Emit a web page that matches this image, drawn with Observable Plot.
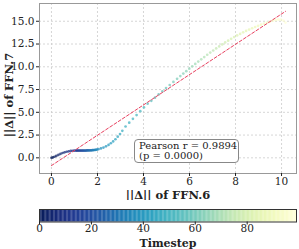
<!DOCTYPE html>
<html><head><meta charset="utf-8">
<script src="https://cdn.jsdelivr.net/npm/d3@7"></script>
<script src="https://cdn.jsdelivr.net/npm/@observablehq/plot@0.6"></script>
<style>
body{margin:0;background:#fff;}
#wrap{position:relative;width:299px;height:249px;font-family:"DejaVu Serif",serif;color:#222;}
#wrap svg{display:block;}
#stat{position:absolute;left:134px;top:139px;width:95px;height:21px;border:1px solid #888;border-radius:4px;background:#fff;font:10px "DejaVu Serif",serif;line-height:10px;padding:0.5px 4px 0 4px;white-space:pre;color:#222;}
</style></head>
<body>
<div id="wrap"><div id="main"></div><div id="cbar"></div><div id="stat"></div></div>
<script>
const timestep = d3.range(100);
const ffn6 = [
 0.00,0.06,0.13,0.21,0.30,0.39,0.48,0.57,0.66,0.75,0.84,0.92,0.99,
 1.06,1.10,1.14,1.18,1.22,1.26,1.30,1.34,1.38,1.42,1.46,1.50,1.54,1.58,1.62,1.66,1.70,1.74,1.78,1.82,1.86,1.90,1.94,1.98,2.04,
 2.15,2.26,2.37,2.48,2.58,2.68,2.78,2.88,2.98,3.08,
 3.22,3.38,3.54,3.70,3.86,4.02,4.18,4.34,4.50,4.66,4.82,4.98,5.14,5.30,5.46,
 5.60,5.73,5.86,5.99,6.12,6.25,6.38,6.51,6.64,6.77,6.90,7.03,7.16,7.29,7.42,7.55,7.68,7.81,7.94,8.07,8.20,8.33,8.46,8.59,8.72,8.85,8.98,9.11,9.24,9.37,
 9.50,9.62,9.74,9.86,9.97,10.08,10.17
];
const ffn7 = [
 0.00,0.05,0.12,0.21,0.32,0.43,0.53,0.61,0.67,0.72,0.76,0.78,0.79,
 0.80,0.80,0.80,0.80,0.80,0.80,0.80,0.80,0.80,0.80,0.80,0.80,0.81,0.81,0.81,0.82,0.82,0.83,0.84,0.85,0.86,0.87,0.89,0.91,0.95,
 1.03,1.13,1.26,1.42,1.60,1.80,2.04,2.32,2.62,2.97,
 3.44,3.86,4.28,4.70,5.12,5.54,5.95,6.26,6.61,6.96,7.31,7.66,8.00,8.34,8.68,
 8.98,9.25,9.52,9.79,10.05,10.31,10.57,10.82,11.07,11.32,11.56,11.79,12.02,12.24,12.46,12.67,12.87,13.07,13.26,13.44,13.61,13.78,13.94,14.09,14.23,14.37,14.50,14.62,14.74,14.86,
 14.97,15.06,15.13,15.18,15.18,15.08,14.85
];
const fitIntercept = -0.85, fitSlope = 1.665;
const pearsonText = "Pearson r = 0.9894\n(p = 0.0000)";
const xTicks = [0,2,4,6,8,10];
const yTicks = [0,2.5,5,7.5,10,12.5,15];
const cbTicks = [0,20,40,60,80];
const xLabel = "||Δ|| of FFN.6", yLabel = "||Δ|| of FFN.7", cLabel = "Timestep";

const points = timestep.map((t,i)=>({t, x:ffn6[i], y:ffn7[i]}));
const xExt = d3.extent(ffn6);
const fitLine = xExt.map(x=>({x, y: fitIntercept + fitSlope*x}));
const colorScale = {type:"linear", scheme:"YlGnBu", reverse:true, domain:[0, d3.max(timestep)]};
const font = {fontFamily:"DejaVu Serif", fontSize:"10.5px", color:"#222", background:"transparent"};

const main = Plot.plot({
  width:299, height:200, marginLeft:39, marginRight:3, marginTop:3, marginBottom:27,
  style: font,
  x:{domain:[-0.52,10.65]}, y:{domain:[-1.72,16.95]},
  color: colorScale,
  marks:[
    Plot.gridX(xTicks,{stroke:"#ccc", strokeOpacity:0.8, strokeDasharray:"2,2"}),
    Plot.gridY(yTicks,{stroke:"#ccc", strokeOpacity:0.8, strokeDasharray:"2,2"}),
    Plot.dot(points,{x:"x", y:"y", fill:"t", r:1.35, fillOpacity:0.75}),
    Plot.line(fitLine,{x:"x", y:"y", stroke:"#e8405f", strokeWidth:1, strokeDasharray:"3,2"}),
    Plot.frame({stroke:"#999"}),
    Plot.axisX({ticks:xTicks, tickSize:3, tickPadding:1, label:null}),
    Plot.axisY({ticks:yTicks, tickFormat:".1f", tickSize:3, tickPadding:2, label:null}),
    Plot.text([xLabel],{text:d=>d, frameAnchor:"bottom", lineAnchor:"bottom", dy:25, fontSize:11.5, fontWeight:"bold"})
  ]
});
d3.select(main).append("text")
  .attr("transform","translate(9,95) rotate(-90)")
  .attr("text-anchor","middle").attr("dy","0.35em")
  .attr("font-size",11.5).attr("font-weight","bold").attr("fill","currentColor")
  .text(yLabel);
document.getElementById("main").appendChild(main);

const rampStep = 0.5;
const ramp = d3.range(0, d3.max(timestep), rampStep);
const cbar = Plot.plot({
  width:299, height:49, marginLeft:39, marginRight:3, marginTop:9, marginBottom:27.5,
  style: font,
  x:{domain:[0, d3.max(timestep)]}, y:{domain:[0,1], axis:null},
  color: colorScale,
  marks:[
    Plot.rect(ramp,{x1:d=>d, x2:d=>Math.min(d+rampStep+0.05, d3.max(timestep)), y1:0, y2:1, fill:d=>d+rampStep/2}),
    Plot.frame({stroke:"#333"}),
    Plot.axisX({ticks:cbTicks, tickSize:3, tickPadding:0, label:null}),
    Plot.text([cLabel],{text:d=>d, frameAnchor:"bottom", lineAnchor:"bottom", dy:25, fontSize:11, fontWeight:"bold"})
  ]
});
document.getElementById("cbar").appendChild(cbar);
document.getElementById("stat").textContent = pearsonText;
</script>
</body></html>
